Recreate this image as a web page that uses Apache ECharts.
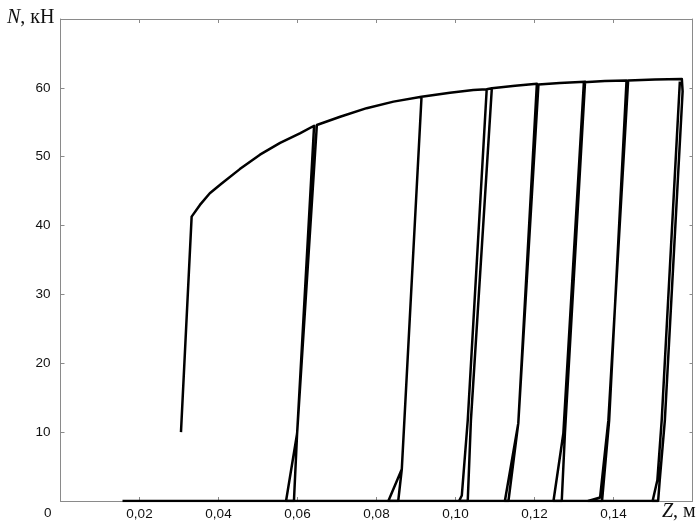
<!DOCTYPE html>
<html>
<head>
<meta charset="utf-8">
<script src="https://cdn.jsdelivr.net/npm/echarts@6/dist/echarts.min.js"></script>
<style>
  html, body { margin: 0; padding: 0; background: #fff; }
  #chart { width: 699px; height: 522px; }
</style>
</head>
<body>
<div id="chart"></div>
<script>
// tick labels
const zTicks = ["0,02", "0,04", "0,06", "0,08", "0,10", "0,12", "0,14"];
const nTicks = ["10", "20", "30", "40", "50", "60"];

// N = 0 baseline
const baseZ = [0.0157, 0.1513];
const baseN = [0, 0];

// loading path with unload / reload loops
const pathZ = [
  0.0305, 0.0332, 0.0353, 0.0378, 0.0408, 0.0454, 0.0505, 0.0556, 0.0606, 0.0642,
  0.0599, 0.0591, 0.0571, 0.0599, 0.0649,
  0.0708, 0.0775, 0.0843, 0.0914,
  0.0864, 0.0855, 0.0830, 0.0864, 0.0914,
  0.0986, 0.1045, 0.1079, 0.1092,
  0.1039, 0.1031, 0.1009, 0.1016, 0.1031, 0.1079, 0.1092,
  0.1151, 0.1206,
  0.1159, 0.1134, 0.1125, 0.1159, 0.1210,
  0.1264, 0.1328,
  0.1277, 0.1269, 0.1248, 0.1273, 0.1325,
  0.1378, 0.1433,
  0.1389, 0.1371, 0.1336, 0.1366, 0.1387, 0.1437,
  0.1505, 0.1573,
  0.1575, 0.1530, 0.1517, 0.1513, 0.1499, 0.1511, 0.1522, 0.1568
];
const pathN = [
  10, 41.3, 43.0, 44.7, 46.1, 48.2, 50.3, 52.0, 53.4, 54.5,
  9.8, 0, 0, 9.8, 54.6,
  55.8, 57.05, 58.0, 58.7,
  4.6, 0, 0, 4.6, 58.7,
  59.3, 59.7, 59.8, 59.95,
  11.7, 0, 0, 0.8, 11.7, 59.8, 59.95,
  60.3, 60.6,
  11.3, 0, 0, 11.3, 60.5,
  60.7, 60.9,
  9.8, 0, 0, 9.8, 60.8,
  61.0, 61.06,
  11.7, 0, 0, 0.5, 11.7, 61.06,
  61.2, 61.3,
  59.5, 11.7, 3.0, 0, 0, 3.0, 11.7, 60.9
];

const zip = (xs, ys) => xs.map((x, i) => [x, ys[i]]);

const axisGray = "#8a8a8a";
const labelFont = { fontFamily: "Liberation Sans", fontSize: 13.5, color: "#111" };

const chart = echarts.init(document.getElementById("chart"));
const option = {
  animation: false,
  backgroundColor: "#fff",
  grid: { left: 60.5, top: 19, width: 632, height: 482, containLabel: false },
  xAxis: [
    {
      type: "value", min: 0, max: 0.16, interval: 0.02,
      axisLine: { show: true, onZero: false, lineStyle: { color: axisGray, width: 1 } },
      axisTick: { show: true, inside: true, length: 4, lineStyle: { color: axisGray } },
      splitLine: { show: false },
      axisLabel: Object.assign({
        margin: 6,
        formatter: v => {
          const i = Math.round(v / 0.02) - 1;
          return i >= 0 && i < zTicks.length ? zTicks[i] : "";
        }
      }, labelFont)
    },
    {
      type: "value", position: "top", min: 0, max: 0.16, interval: 0.02,
      axisLine: { show: true, onZero: false, lineStyle: { color: axisGray, width: 1 } },
      axisTick: { show: true, inside: true, length: 4, lineStyle: { color: axisGray } },
      axisLabel: { show: false },
      splitLine: { show: false }
    }
  ],
  yAxis: [
    {
      type: "value", min: 0, max: 70, interval: 10,
      axisLine: { show: true, onZero: false, lineStyle: { color: axisGray, width: 1 } },
      axisTick: { show: true, inside: true, length: 4, lineStyle: { color: axisGray } },
      splitLine: { show: false },
      axisLabel: Object.assign({
        margin: 10,
        formatter: v => {
          const i = Math.round(v / 10) - 1;
          return i >= 0 && i < nTicks.length ? nTicks[i] : "";
        }
      }, labelFont)
    },
    {
      type: "value", position: "right", min: 0, max: 70, interval: 10,
      axisLine: { show: true, onZero: false, lineStyle: { color: axisGray, width: 1 } },
      axisTick: { show: true, inside: true, length: 3, lineStyle: { color: axisGray } },
      axisLabel: { show: false },
      splitLine: { show: false }
    }
  ],
  graphic: [
    {
      type: "text", left: 7, top: 8,
      style: {
        text: "{i|N}, кН",
        fontFamily: "Liberation Serif", fontSize: 20, fill: "#111",
        rich: { i: { fontFamily: "Liberation Serif", fontSize: 20, fontStyle: "italic", fill: "#111" } }
      }
    },
    {
      type: "text", left: 662, top: 502,
      style: {
        text: "{i|Z}, м",
        fontFamily: "Liberation Serif", fontSize: 20, fill: "#111",
        rich: { i: { fontFamily: "Liberation Serif", fontSize: 20, fontStyle: "italic", fill: "#111" } }
      }
    },
    {
      type: "text", left: 44, top: 506,
      style: { text: "0", fontFamily: "Liberation Sans", fontSize: 13.5, fill: "#111" }
    }
  ],
  series: [
    {
      type: "line", data: zip(baseZ, baseN), symbol: "none",
      lineStyle: { color: "#000", width: 2.5 }, z: 3
    },
    {
      type: "line", data: zip(pathZ, pathN), symbol: "none",
      lineStyle: { color: "#000", width: 2.5, join: "round" }, z: 4
    }
  ]
};
chart.setOption(option);
</script>
</body>
</html>
